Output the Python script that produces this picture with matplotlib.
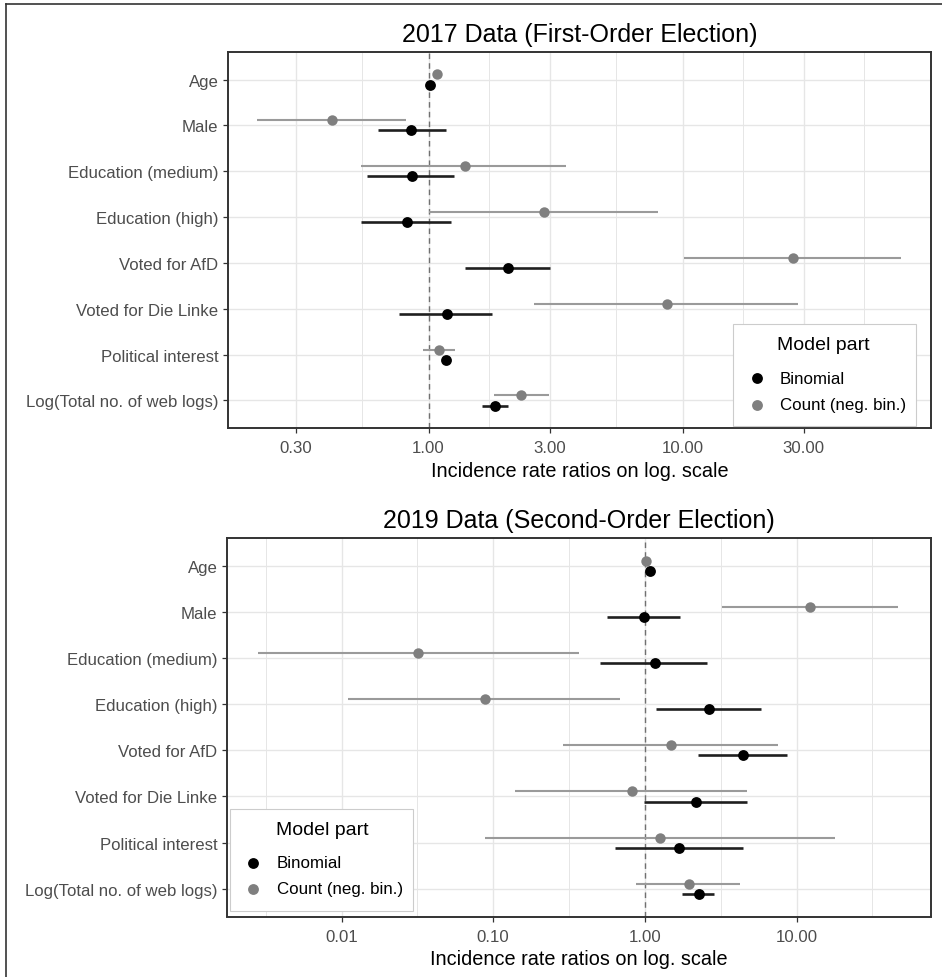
import numpy as np
import matplotlib
matplotlib.use("Agg")
import matplotlib.pyplot as plt
from matplotlib.lines import Line2D
from matplotlib.patches import Rectangle

plt.rcParams['font.family'] = ['Liberation Sans', 'DejaVu Sans']

# ---------------- data ----------------
variables = ["Age", "Male", "Education (medium)", "Education (high)",
             "Voted for AfD", "Voted for Die Linke", "Political interest",
             "Log(Total no. of web logs)"]

# 2017 (First-Order Election)
bin17_est = [1.01, 0.857, 0.862, 0.824, 2.06, 1.18, 1.167, 1.82]
bin17_lo  = [0.99, 0.630, 0.572, 0.543, 1.39, 0.768, 1.14, 1.62]
bin17_hi  = [1.03, 1.167, 1.259, 1.229, 3.02, 1.775, 1.19, 2.06]
cnt17_est = [1.08, 0.418, 1.388, 2.84, 27.1, 8.65, 1.10, 2.32]
cnt17_lo  = [1.06, 0.212, 0.543, 1.006, 10.16, 2.61, 0.953, 1.807]
cnt17_hi  = [1.10, 0.813, 3.48, 8.01, 72.3, 28.5, 1.27, 2.99]

# 2019 (Second-Order Election)
bin19_est = [1.08, 0.99, 1.16, 2.66, 4.46, 2.16, 1.69, 2.26]
bin19_lo  = [1.05, 0.564, 0.505, 1.18, 2.25, 0.99, 0.64, 1.77]
bin19_hi  = [1.11, 1.70, 2.55, 5.86, 8.61, 4.73, 4.46, 2.86]
cnt19_est = [1.015, 12.3, 0.0319, 0.088, 1.48, 0.817, 1.26, 1.95]
cnt19_lo  = [1.00, 3.21, 0.0028, 0.0111, 0.289, 0.140, 0.0888, 0.868]
cnt19_hi  = [1.03, 47.0, 0.367, 0.69, 7.55, 4.73, 17.9, 4.24]

ticks17 = [0.3, 1, 3, 10, 30]
ticklabels17 = ["0.30", "1.00", "3.00", "10.00", "30.00"]
ticks19 = [0.01, 0.1, 1, 10]
ticklabels19 = ["0.01", "0.10", "1.00", "10.00"]

titles = ["2017 Data (First-Order Election)", "2019 Data (Second-Order Election)"]
xlabel = "Incidence rate ratios on log. scale"
legend_title = "Model part"
series_names = ["Binomial", "Count (neg. bin.)"]

# ---------------- style ----------------
W, H = 942, 978
fig = plt.figure(figsize=(W / 100, H / 100), dpi=100)

BIN_PT = "#000000"
BIN_LN = "#1f1f1f"
CNT_PT = "#7f7f7f"
CNT_LN = "#9a9a9a"
GRID = "#e6e6e6"
TXT = "#4d4d4d"

def fx(x):
    return x / W

def fy(y):
    return 1 - y / H

def px_axes(x0, y0, x1, y1):
    return fig.add_axes([x0 / W, 1 - y1 / H, (x1 - x0) / W, (y1 - y0) / H])

def minor_positions(ticks, lim):
    lt = np.log10(ticks)
    ext = np.concatenate([[lt[0] - (lt[1] - lt[0])], lt, [lt[-1] + (lt[-1] - lt[-2])]])
    mids = (ext[:-1] + ext[1:]) / 2
    lo, hi = np.log10(lim)
    return [10 ** m for m in mids if lo + 0.01 < m < hi - 0.01]

def draw_legend(ax, box, title_xy, mark_x, text_x, ys):
    x0, y0, x1, y1 = box
    tr = fig.transFigure
    ax.add_artist(Rectangle((fx(x0), fy(y1)), fx(x1) - fx(x0), fy(y0) - fy(y1),
                            transform=tr, facecolor="white", edgecolor="#cccccc",
                            lw=0.8, zorder=10, clip_on=False))
    ax.text(fx(title_xy[0]), fy(title_xy[1]), legend_title, transform=tr,
            ha="center", va="center", fontsize=14, color="black", zorder=11)
    for name, col, y in zip(series_names, [BIN_PT, CNT_PT], ys):
        ax.add_artist(Line2D([fx(mark_x)], [fy(y)], marker="o", ls="", color=col,
                             ms=7.8, mew=0, transform=tr, zorder=11))
        ax.text(fx(text_x), fy(y), name, transform=tr, ha="left", va="center",
                fontsize=12.2, color="black", zorder=11)

def panel(ax, be, bl, bh, ce, cl, ch, ticks, labels, xlim, title):
    n = len(variables)
    ypos = np.arange(n)[::-1] + 1.0  # Age at top
    off = 0.11
    ax.set_xscale("log")
    ax.set_xlim(*xlim)
    ax.set_ylim(0.4, n + 0.6)
    for m in minor_positions(ticks, xlim):
        ax.axvline(m, color=GRID, lw=0.7, zorder=0)
    for t in ticks:
        ax.axvline(t, color=GRID, lw=1.0, zorder=0)
    for y in ypos:
        ax.axhline(y, color=GRID, lw=1.0, zorder=0)
    ax.axvline(1.0, color="#707070", lw=1.0, ls=(0, (4, 3)), zorder=1)
    # count (upper)
    yc = ypos + off
    ax.hlines(yc, cl, ch, color=CNT_LN, lw=1.5, zorder=2)
    ax.plot(ce, yc, "o", color=CNT_PT, ms=7.5, mew=0, zorder=3)
    # binomial (lower)
    yb = ypos - off
    ax.hlines(yb, bl, bh, color=BIN_LN, lw=1.9, zorder=2)
    ax.plot(be, yb, "o", color=BIN_PT, ms=7.8, mew=0, zorder=4)

    ax.set_xticks(ticks)
    ax.set_xticklabels(labels)
    ax.xaxis.set_minor_locator(matplotlib.ticker.NullLocator())
    ax.set_yticks(ypos)
    ax.set_yticklabels(variables)
    ax.tick_params(axis="both", colors="#333333", labelcolor=TXT, labelsize=12.1,
                   length=3.8, width=0.9)
    ax.tick_params(axis="x", pad=5)
    ax.tick_params(axis="y", pad=3)
    for s in ax.spines.values():
        s.set_color("#333333")
        s.set_linewidth(1.4)
    ax.set_xlabel(xlabel, fontsize=14.3, color="black", labelpad=4)
    ax.set_title(title, fontsize=18, color="black", pad=8)

ax1 = px_axes(228, 53, 931, 429)
panel(ax1, bin17_est, bin17_lo, bin17_hi, cnt17_est, cnt17_lo, cnt17_hi,
      ticks17, ticklabels17, (0.1625, 95.0), titles[0])
draw_legend(ax1, (733, 325, 916, 427), (823, 346), 757, 780, (379, 406))

ax2 = px_axes(227, 539, 931, 917.5)
panel(ax2, bin19_est, bin19_lo, bin19_hi, cnt19_est, cnt19_lo, cnt19_hi,
      ticks19, ticklabels19, (0.001757, 77.0), titles[1])
draw_legend(ax2, (230, 810, 413, 912), (322, 831), 253, 277, (864, 890))

# outer frame (left and top edges visible)
fig.add_artist(Line2D([fx(6), fx(6)], [0, fy(5)], color="#333333", lw=1.2,
                      transform=fig.transFigure))
fig.add_artist(Line2D([fx(6), 1], [fy(5), fy(5)], color="#333333", lw=1.2,
                      transform=fig.transFigure))

fig.savefig("out.png", dpi=100, facecolor="white")
